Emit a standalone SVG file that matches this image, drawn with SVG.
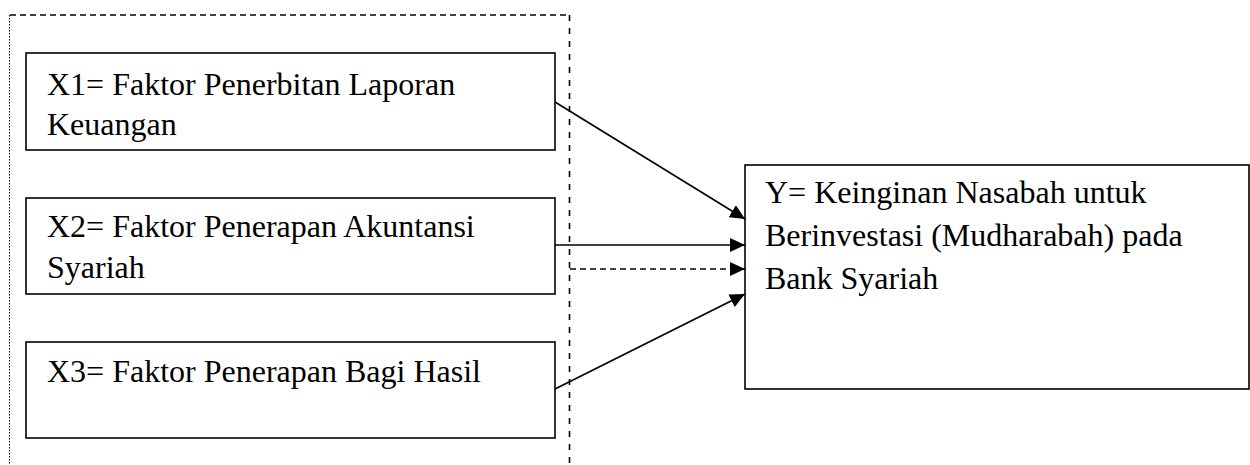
<svg xmlns="http://www.w3.org/2000/svg" width="1250" height="465" viewBox="0 0 1250 465">
<style>
.box{fill:#fff;stroke:#000;stroke-width:1.6}
.t{font-family:"Liberation Serif","Times New Roman",serif;font-size:32px;fill:#000}
.ln{stroke:#000;stroke-width:1.6;fill:none}
.dash{stroke:#000;stroke-width:1.6;fill:none;stroke-dasharray:6 4}
.dot{stroke:#000;stroke-width:1;fill:none;stroke-dasharray:1.5 1.5}
</style>
<defs>
<marker id="ah" viewBox="0 0 15 14" refX="15" refY="7" markerWidth="15" markerHeight="14" markerUnits="userSpaceOnUse" orient="auto">
<path d="M0,0 L15,7 L0,14 Z" fill="#000"/>
</marker>
</defs>
<g id="frame">
<path class="dash" d="M10,15 H570"/>
<path class="dot" d="M9.5,15 V465"/>
<path class="dash" d="M569.5,15 V465" style="stroke-dasharray:6 7"/>
</g>
<g id="x1">
<rect class="box" x="26" y="53" width="529" height="97"/>
<text class="t" x="47" y="95">X1= Faktor Penerbitan Laporan</text>
<text class="t" x="47" y="135">Keuangan</text>
</g>
<g id="x2">
<rect class="box" x="26" y="198" width="529" height="96"/>
<text class="t" x="47" y="237">X2= Faktor Penerapan Akuntansi</text>
<text class="t" x="47" y="278">Syariah</text>
</g>
<g id="x3">
<rect class="box" x="26" y="342" width="529" height="96"/>
<text class="t" x="47" y="382">X3= Faktor Penerapan Bagi Hasil</text>
</g>
<g id="y">
<rect class="box" x="745" y="165" width="504" height="224"/>
<text class="t" x="765" y="203">Y= Keinginan Nasabah untuk</text>
<text class="t" x="765" y="246">Berinvestasi (Mudharabah) pada</text>
<text class="t" x="765" y="289">Bank Syariah</text>
</g>
<g id="connectors">
<line class="ln" x1="555" y1="102" x2="745" y2="219" marker-end="url(#ah)"/>
<line class="ln" x1="555" y1="245" x2="745" y2="245" marker-end="url(#ah)"/>
<line class="dash" x1="570" y1="269" x2="745" y2="269" marker-end="url(#ah)"/>
<line class="ln" x1="555" y1="389" x2="745" y2="294" marker-end="url(#ah)"/>
</g>
</svg>
